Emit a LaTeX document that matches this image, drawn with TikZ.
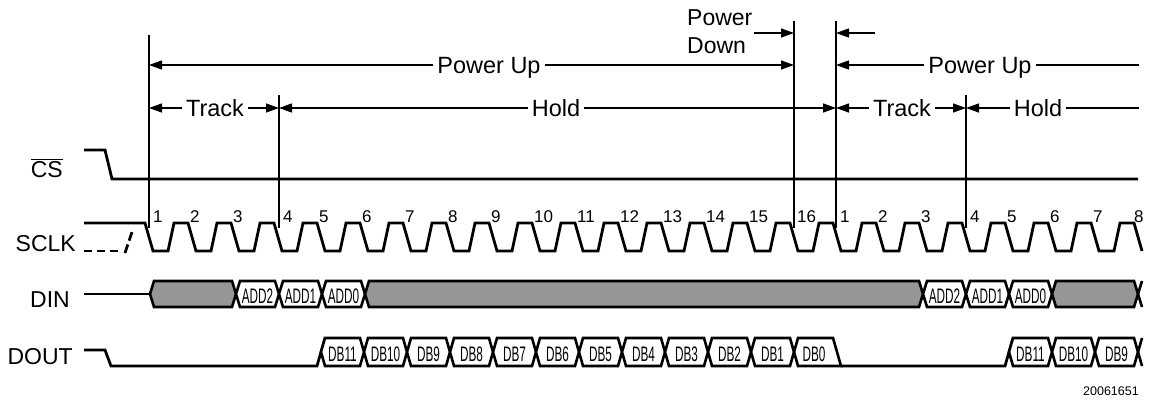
\documentclass[tikz,border=0pt]{standalone}
\usepackage{fontspec}
\setmainfont{Liberation Sans}
\newfontfamily\narrowfont[FakeStretch=0.56]{Liberation Sans}
\usetikzlibrary{arrows.meta}
\definecolor{busgray}{RGB}{150,150,150}
\newcommand\hexseg[7]{% name, x0, x1, top, bottom, fill, text
  \path[busline,fill=#6] (#2,{(#4+#5)/2}) -- ({#2+4},#4) -- ({#3-4},#4) -- (#3,{(#4+#5)/2}) -- ({#3-4},#5) -- ({#2+4},#5) -- cycle;
  \node[bustext] (#1) at ({(#2+#3)/2},{(#4+#5)/2+2}) {#7};}
\newcommand\grayseg[4]{% x0, x1, top, bottom
  \path[busline,fill=busgray] (#1,{(#3+#4)/2}) -- ({#1+4},#3) -- ({#2-4},#3) -- (#2,{(#3+#4)/2}) -- ({#2-4},#4) -- ({#1+4},#4) -- cycle;}
\begin{document}
\begin{tikzpicture}[x=1pt,y=-1pt,
  wave/.style={draw,line width=2.8pt,line join=miter},
  busline/.style={draw,line width=2.6pt,line join=miter},
  vline/.style={draw,line width=1.3pt},
  dim/.style={draw,line width=1.3pt,-{Triangle[length=13pt,width=9pt]}},
  plainline/.style={draw,line width=1.3pt},
  lbl/.style={font=\fontsize{23.5}{27}\selectfont,text height=16.8pt,text depth=0pt,inner xsep=4pt,inner ysep=0pt},
  sig/.style={font=\fontsize{23}{27}\selectfont,inner sep=0pt},
  num/.style={font=\fontsize{17}{19}\selectfont,inner sep=0pt,anchor=base west},
  bustext/.style={font=\narrowfont\fontsize{21}{23}\selectfont,text height=15pt,text depth=0pt,inner sep=0pt}]
\useasboundingbox (0,0) rectangle (1152,402);

% signal labels
\node[sig,anchor=base east] (lcs) at (63,177) {$\overline{\mbox{CS}}$};
\node[sig,anchor=base east] (lsclk) at (76,251) {SCLK};
\node[sig,anchor=base east] (ldin) at (70,307) {DIN};
\node[sig,anchor=base east] (ldout) at (73,364) {DOUT};

% CS
\draw[wave] (84,150) -- (105,150) -- (112,179) -- (1138,179);

% SCLK
\draw[wave] (84,223) \foreach \e in {149,192,...,1095} { -- ({\e-4},223) -- ({\e+4},251) -- ({\e+19},251) -- ({\e+25},223) } -- (1134,223) -- (1142,251);
\draw[wave,dash pattern=on 8pt off 5pt] (84,251) -- (120,251);
\draw[wave,dash pattern=on 9pt off 4pt] (125,253) -- (132,232);

% clock numbers
\foreach \x/\t [count=\i] in {153/1,190/2,233/3,283/4,319/5,362/6,405/7,448/8,491/9,534/10,577/11,620/12,663/13,706/14,749/15,797/16,840/1,878/2,921/3,970/4,1007/5,1050/6,1093/7,1134/8}
  \node[num] (n\i) at (\x,222) {\t};

% vertical marker lines
\coordinate (v1t) at (149,35);  \coordinate (v1b) at (149,228);
\coordinate (v2t) at (279,95);  \coordinate (v2b) at (279,228);
\coordinate (v3t) at (794,21);  \coordinate (v3b) at (794,228);
\coordinate (v4t) at (836,21);  \coordinate (v4b) at (836,228);
\coordinate (v5t) at (966,95);  \coordinate (v5b) at (966,228);
\foreach \v in {v1,v2,v3,v4,v5} \draw[vline] (\v t) -- (\v b);

% arrow end points
\coordinate (pu1a) at (149,65); \coordinate (pu1b) at (794,65);
\coordinate (pu2a) at (836,65); \coordinate (pu2b) at (1139,65);
\coordinate (tr1a) at (149,108); \coordinate (tr1b) at (279,108);
\coordinate (ho1a) at (279,108); \coordinate (ho1b) at (836,108);
\coordinate (tr2a) at (836,108); \coordinate (tr2b) at (966,108);
\coordinate (ho2a) at (966,108); \coordinate (ho2b) at (1139,108);
\coordinate (pdS) at (754,33); \coordinate (pdE) at (794,33);
\coordinate (pwS) at (875,33); \coordinate (pwE) at (836,33);

% top labels
\node[lbl] (pu1) at (489,65) {Power Up};
\node[lbl] (pu2) at (980,65) {Power Up};
\node[lbl] (tr1) at (215,108) {Track};
\node[lbl] (ho1) at (556,108) {Hold};
\node[lbl] (tr2) at (902,108) {Track};
\node[lbl] (ho2) at (1038,108) {Hold};
\node[sig,anchor=base west] (pdA) at (687,25) {Power};
\node[sig,anchor=base west] (pdB) at (687,53) {Down};

\draw[dim] (pu1.west) -- (pu1a);
\draw[dim] (pu1.east) -- (pu1b);
\draw[dim] (pu2.west) -- (pu2a);
\draw[plainline] (pu2.east) -- (pu2b);
\draw[dim] (tr1.west) -- (tr1a);
\draw[dim] (tr1.east) -- (tr1b);
\draw[dim] (ho1.west) -- (ho1a);
\draw[dim] (ho1.east) -- (ho1b);
\draw[dim] (tr2.west) -- (tr2a);
\draw[dim] (tr2.east) -- (tr2b);
\draw[dim] (ho2.west) -- (ho2a);
\draw[plainline] (ho2.east) -- (ho2b);
\draw[dim] (pdS) -- (pdE);
\draw[dim] (pwS) -- (pwE);

% DIN
\draw[wave] (84,294) -- (150,294);
\grayseg{150}{236}{281}{307}
\hexseg{dinA}{236}{279}{281}{307}{white}{ADD2}
\hexseg{dinB}{279}{322}{281}{307}{white}{ADD1}
\hexseg{dinC}{322}{365}{281}{307}{white}{ADD0}
\grayseg{365}{923}{281}{307}
\hexseg{dinD}{923}{966}{281}{307}{white}{ADD2}
\hexseg{dinE}{966}{1009}{281}{307}{white}{ADD1}
\hexseg{dinF}{1009}{1052}{281}{307}{white}{ADD0}
\grayseg{1052}{1138}{281}{307}
\draw[busline] (1142,281) -- (1138,294) -- (1142,307);

% DOUT
\draw[wave] (84,350) -- (105,350) -- (111,366) -- (317,366) -- (325,338);
\foreach \a/\b/\t [count=\i] in {321/364/DB11,364/407/DB10,407/450/DB9,450/493/DB8,493/536/DB7,536/579/DB6,579/622/DB5,622/665/DB4,665/708/DB3,708/751/DB2,751/794/DB1}
  {\hexseg{do\i}{\a}{\b}{338}{366}{white}{\t}}
\path[busline] (794,352) -- (798,338) -- (833,338) -- (841,366) -- (798,366) -- cycle;
\node[bustext] (doZ) at (814,354) {DB0};
\draw[wave] (841,366) -- (1005,366) -- (1013,338);
\hexseg{doP}{1009}{1052}{338}{366}{white}{DB11}
\hexseg{doQ}{1052}{1095}{338}{366}{white}{DB10}
\hexseg{doR}{1095}{1138}{338}{366}{white}{DB9}
\draw[busline] (1142,338) -- (1138,352) -- (1142,366);

% figure number
\node[font=\fontsize{12.5}{14}\selectfont,inner sep=0pt,anchor=base east] (fig) at (1139,395) {20061651};
\end{tikzpicture}
\end{document}
